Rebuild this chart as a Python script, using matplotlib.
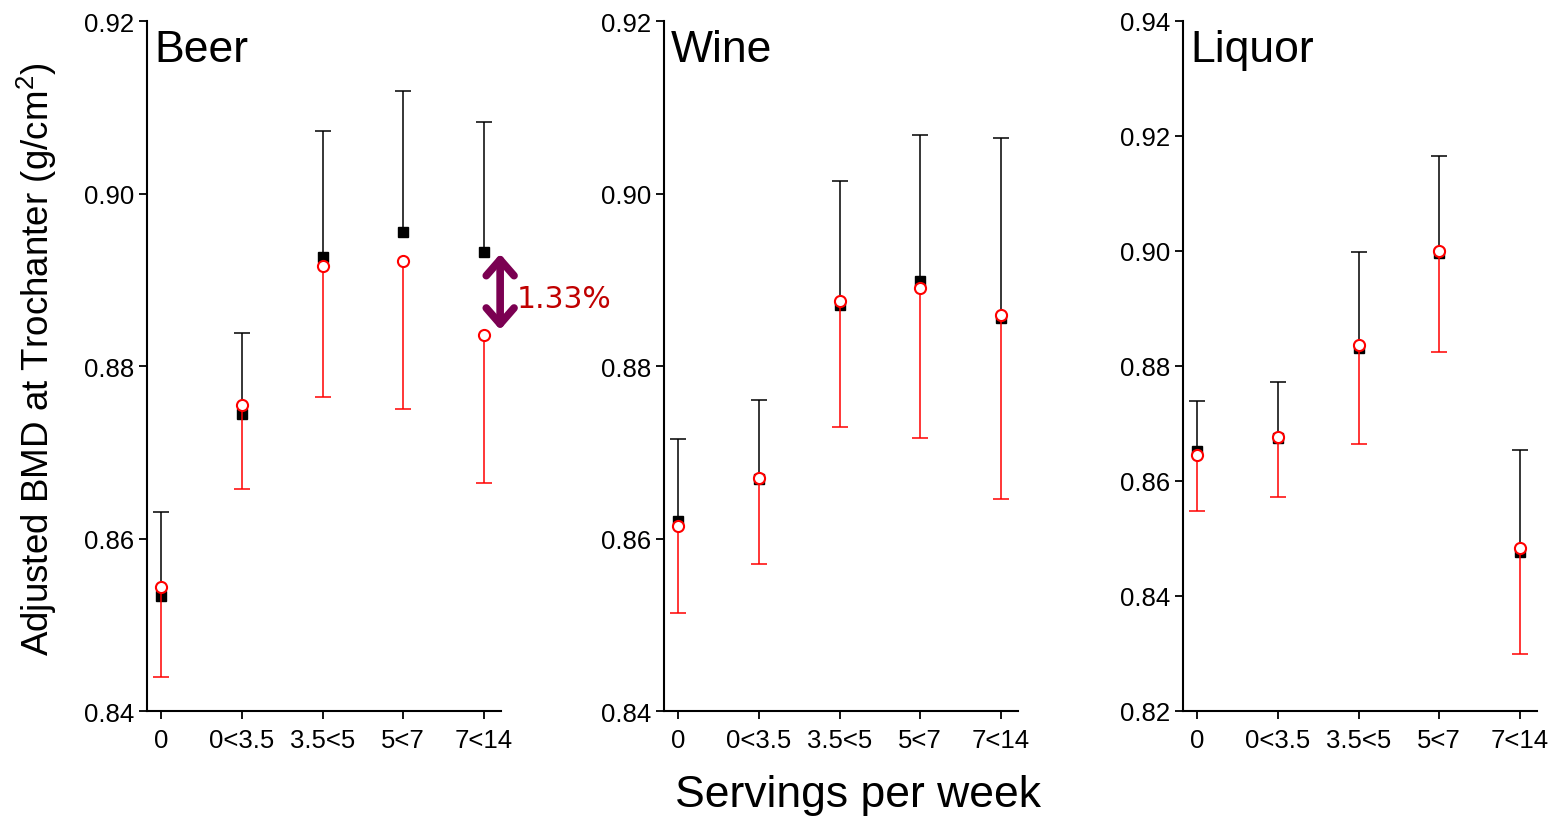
import matplotlib
matplotlib.use("Agg")
import matplotlib.pyplot as plt
import numpy as np

plt.rcParams['font.family'] = ['Liberation Sans', 'DejaVu Sans']
plt.rcParams['mathtext.fontset'] = 'custom'
plt.rcParams['mathtext.rm'] = 'Liberation Sans'
plt.rcParams['mathtext.it'] = 'Liberation Sans'

categories = ["0", "0<3.5", "3.5<5", "5<7", "7<14"]
panels = ["Beer", "Wine", "Liquor"]

# Black squares (model 1) with upper error limits
beer_black = [0.8533, 0.8744, 0.8926, 0.8955, 0.8932]
beer_black_upper = [0.8631, 0.8838, 0.9072, 0.9119, 0.9083]
# Red open circles (model 2) with lower error limits
beer_red = [0.8544, 0.8755, 0.8916, 0.8922, 0.8836]
beer_red_lower = [0.8440, 0.8657, 0.8764, 0.8750, 0.8664]

wine_black = [0.8620, 0.8669, 0.8871, 0.8899, 0.8856]
wine_black_upper = [0.8715, 0.8761, 0.9014, 0.9068, 0.9064]
wine_red = [0.8615, 0.8670, 0.8875, 0.8891, 0.8859]
wine_red_lower = [0.8514, 0.8570, 0.8729, 0.8717, 0.8646]

liquor_black = [0.8652, 0.8674, 0.8832, 0.8996, 0.8476]
liquor_black_upper = [0.8739, 0.8772, 0.8998, 0.9165, 0.8654]
liquor_red = [0.8645, 0.8676, 0.8836, 0.9000, 0.8484]
liquor_red_lower = [0.8547, 0.8572, 0.8664, 0.8825, 0.8299]

y_limits = [(0.84, 0.92), (0.84, 0.92), (0.82, 0.94)]
y_ticks = [[0.84, 0.86, 0.88, 0.90, 0.92],
           [0.84, 0.86, 0.88, 0.90, 0.92],
           [0.82, 0.84, 0.86, 0.88, 0.90, 0.92, 0.94]]

diff_label = "1.33%"

series = [
    (beer_black, beer_black_upper, beer_red, beer_red_lower),
    (wine_black, wine_black_upper, wine_red, wine_red_lower),
    (liquor_black, liquor_black_upper, liquor_red, liquor_red_lower),
]

W, H = 1553, 820
fig = plt.figure(figsize=(W / 100, H / 100), dpi=100)

lefts = [147, 664, 1183]
ax_w, ax_h, ax_bottom = 354, 690, 108
cap_pt = 16 * 0.72
axes = []
for i, name in enumerate(panels):
    ax = fig.add_axes([lefts[i] / W, ax_bottom / H, ax_w / W, ax_h / H])
    axes.append(ax)
    x = np.arange(len(categories))
    bk, bk_up, rd, rd_lo = series[i]

    # black upper whiskers and squares
    ax.vlines(x, bk, bk_up, color="black", lw=1.1, zorder=2)
    ax.plot(x, bk_up, ls="none", marker="_", ms=cap_pt, mew=1.1,
            color="black", zorder=2)
    ax.plot(x, bk, ls="none", marker="s", ms=7.2, color="black",
            mec="black", zorder=3)

    # red lower whiskers and open circles
    ax.vlines(x, rd_lo, rd, color="red", lw=1.1, zorder=4)
    ax.plot(x, rd_lo, ls="none", marker="_", ms=cap_pt, mew=1.1,
            color="red", zorder=4)
    ax.plot(x, rd, ls="none", marker="o", ms=8.0, mfc="white", mec="red",
            mew=1.5, zorder=5)

    ax.set_xlim(-14 / 80.75, 4 + 17 / 80.75)
    ax.set_ylim(*y_limits[i])
    ax.set_xticks(x)
    ax.set_xticklabels(categories)
    ax.set_yticks(y_ticks[i])
    ax.set_yticklabels([f"{v:.2f}" for v in y_ticks[i]])
    for s in ["top", "right"]:
        ax.spines[s].set_visible(False)
    for s in ["left", "bottom"]:
        ax.spines[s].set_linewidth(1.5)
    ax.tick_params(direction="out", length=6, width=1.3, labelsize=18.5,
                   pad=3)
    ax.tick_params(axis="x", pad=6)
    ax.text(0.02, 0.942, name, transform=ax.transAxes, fontsize=32,
            ha="left", va="baseline")

# difference marker for beer 7<14
ax = axes[0]
ax.annotate("", xy=(4.2, beer_red[4] + 0.0006), xytext=(4.2, beer_black[4] - 0.0002),
            arrowprops=dict(arrowstyle="<->,head_length=1.15,head_width=1.0",
                            color="#7B0052", lw=5.5, capstyle="round",
                            joinstyle="round", shrinkA=0, shrinkB=0),
            annotation_clip=False, zorder=6)
ax.text(4.41, 0.8868, diff_label, color="#C00000", fontsize=21.5,
        family="DejaVu Sans", ha="left", va="baseline", clip_on=False)

fig.text(37 / W, 1 - 359 / H, r"Adjusted BMD at Trochanter (g/cm$^{2}$)",
         rotation=90, ha="center", va="center", fontsize=26.5)
fig.text(858 / W, 1 - 796 / H, "Servings per week", ha="center",
         va="center", fontsize=32)

fig.savefig("out.png", dpi=100)
